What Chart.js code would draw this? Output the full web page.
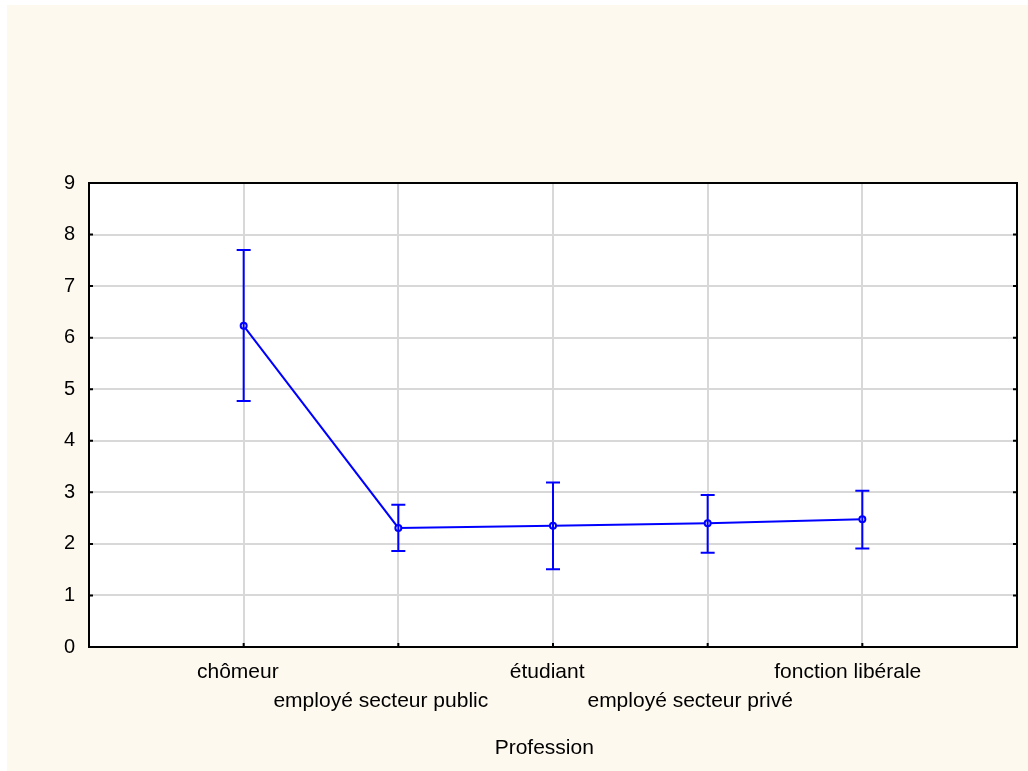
<!DOCTYPE html>
<html>
<head>
<meta charset="utf-8">
<script src="https://cdn.jsdelivr.net/npm/chart.js@4.4.0/dist/chart.umd.min.js"></script>
<style>
  html, body { margin: 0; padding: 0; background: #ffffff; }
  #wrap { position: absolute; left: 7px; top: 5px; width: 1021px; height: 766px; background: #fef9ef; }
  canvas { display: block; }
</style>
</head>
<body>
<div id="wrap"><canvas id="chart" width="1021" height="766"></canvas></div>
<script>
// Profession categories (x positions 1..5 on a 0..6 axis)
const categories = ['chômeur', 'employé secteur public', 'étudiant', 'employé secteur privé', 'fonction libérale'];
const means = [6.23, 2.31, 2.35, 2.40, 2.48];
const upper = [7.70, 2.76, 3.19, 2.95, 3.03];
const lower = [4.77, 1.86, 1.51, 1.83, 1.91];
const yTicks = [0, 1, 2, 3, 4, 5, 6, 7, 8, 9];

const BLUE = '#0000ff';
const FONT = "'Liberation Sans', Arial, sans-serif";

// the original centres its text a little left of the tick; trailing nbsp mimic that
const nudge = s => s + '\u00a0'.repeat(Math.round(s.length * 0.27));

const plotFrame = {
    id: 'plotFrame',
    beforeDraw(chart) {
        const { ctx, chartArea: a } = chart;
        ctx.save();
        ctx.fillStyle = '#ffffff';
        ctx.fillRect(a.left, a.top, a.right - a.left, a.bottom - a.top);
        ctx.restore();
    },
    afterDraw(chart) {
        const { ctx, chartArea: a, scales: { x, y } } = chart;
        ctx.save();
        ctx.strokeStyle = '#000000';
        ctx.lineWidth = 2;
        ctx.strokeRect(a.left, a.top, a.right - a.left, a.bottom - a.top);
        // short inward tick marks
        ctx.beginPath();
        yTicks.forEach(v => {
            const py = y.getPixelForValue(v);
            ctx.moveTo(a.left, py);
            ctx.lineTo(a.left + 4, py);
            ctx.moveTo(a.right, py);
            ctx.lineTo(a.right - 4, py);
        });
        categories.forEach((c, i) => {
            const px = x.getPixelForValue(i + 1);
            ctx.moveTo(px, a.bottom);
            ctx.lineTo(px, a.bottom - 4);
        });
        ctx.stroke();
        ctx.restore();
    }
};

// whiskers drawn from the upper/lower arrays through the scales
const errorBars = {
    id: 'errorBars',
    afterDatasetsDraw(chart) {
        const { ctx, scales: { x, y } } = chart;
        ctx.save();
        ctx.strokeStyle = BLUE;
        ctx.lineWidth = 2;
        categories.forEach((c, i) => {
            const px = x.getPixelForValue(i + 1);
            const top = y.getPixelForValue(upper[i]);
            const bot = y.getPixelForValue(lower[i]);
            ctx.beginPath();
            ctx.moveTo(px, top);
            ctx.lineTo(px, bot);
            ctx.moveTo(px - 7, top);
            ctx.lineTo(px + 7, top);
            ctx.moveTo(px - 7, bot);
            ctx.lineTo(px + 7, bot);
            ctx.stroke();
        });
        ctx.restore();
    }
};

new Chart(document.getElementById('chart'), {
    type: 'line',
    data: {
        datasets: [{
            data: means.map((m, i) => ({ x: i + 1, y: m })),
            borderColor: BLUE,
            borderWidth: 2,
            pointRadius: 3,
            pointBorderWidth: 2,
            pointBackgroundColor: '#ffffff',
            pointBorderColor: BLUE,
            tension: 0
        }]
    },
    options: {
        responsive: false,
        animation: false,
        layout: { padding: { top: 178, right: 11, left: 0, bottom: 0 } },
        plugins: { legend: { display: false }, tooltip: { enabled: false } },
        scales: {
            x: {
                type: 'linear',
                min: 0,
                max: 6,
                afterFit(s) { s.height = 124; },
                afterBuildTicks(s) { s.ticks = [0, 1, 2, 3, 4, 5, 6].map(v => ({ value: v })); },
                ticks: {
                    autoSkip: false,
                    maxRotation: 0,
                    padding: 11,
                    color: '#000000',
                    font: { family: FONT, size: 21, lineHeight: 1.38 },
                    callback(v) {
                        const label = categories[v - 1];
                        if (!label) return '';
                        return (v % 2 === 1) ? nudge(label) : ['', nudge(label)];
                    }
                },
                grid: { color: '#d8d8d8', lineWidth: 2, drawTicks: false },
                border: { color: '#000000', width: 2 },
                title: {
                    display: true,
                    text: nudge('Profession'),
                    color: '#000000',
                    font: { family: FONT, size: 21 },
                    padding: { top: 0, bottom: 10 }
                }
            },
            y: {
                min: 0,
                max: 9,
                afterFit(s) { s.width = 82; },
                afterBuildTicks(s) { s.ticks = yTicks.map(v => ({ value: v })); },
                ticks: {
                    padding: 14,
                    color: '#000000',
                    font: { family: FONT, size: 20 }
                },
                grid: { color: '#d8d8d8', lineWidth: 2, drawTicks: false },
                border: { color: '#000000', width: 2 }
            }
        }
    },
    plugins: [plotFrame, errorBars]
});
</script>
</body>
</html>
